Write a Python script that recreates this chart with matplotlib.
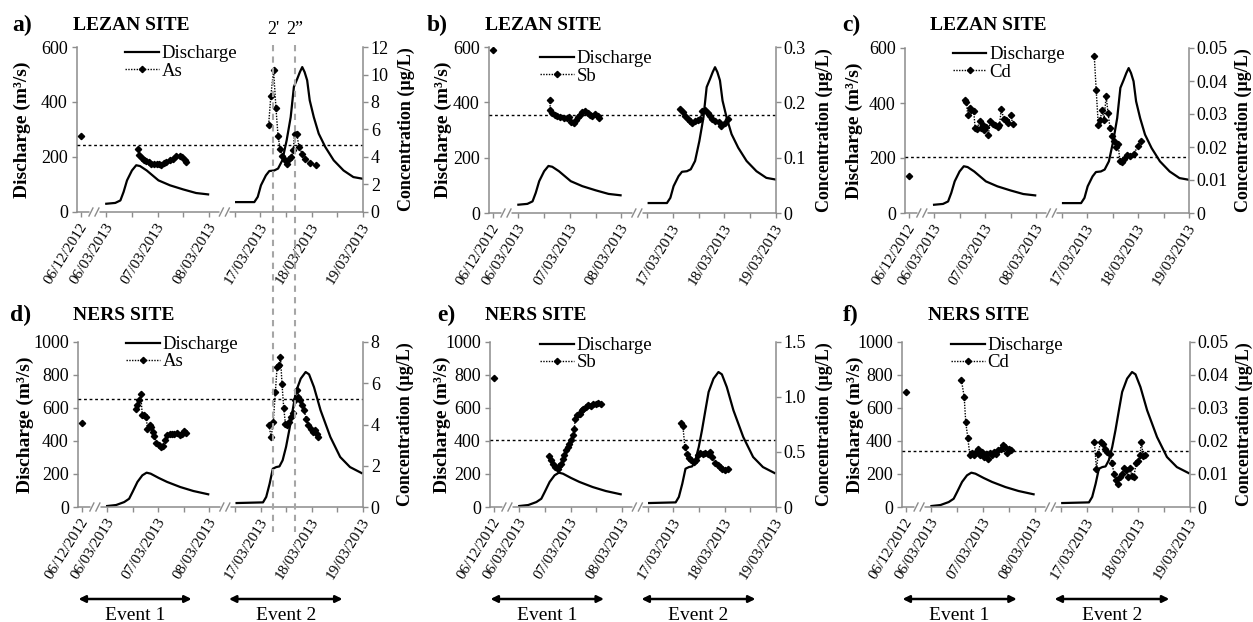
import matplotlib
matplotlib.use("Agg")
import matplotlib.pyplot as plt
import numpy as np
from matplotlib.lines import Line2D
from matplotlib.transforms import blended_transform_factory, ScaledTranslation

plt.rcParams['font.family'] = ['Liberation Serif', 'DejaVu Serif']

# ---------------- x axis (broken time axis) ----------------
DATE_LABELS = ['06/12/2012', '06/03/2013', '07/03/2013', '08/03/2013',
               '17/03/2013', '18/03/2013', '19/03/2013']
DATE_POS = [0.0, 0.5, 1.5, 2.5, 3.5, 4.5, 5.5]
MINOR_POS = [1.0, 2.0, 3.0, 4.0, 5.0]
BREAK_POS = [0.26, 2.8]


def to_axis(event, hours):
    """event 1: hours after 06/03/2013 00:00 ; event 2: hours after 17/03/2013 00:00"""
    base = 0.5 if event == 1 else 3.5
    return base + np.asarray(hours, float) / 24.0


# ---------------- discharge (m3/s) ----------------
lez_q1_h = [0, 4.2, 6.6, 8.1, 9.7, 12, 14, 15.8, 18.9, 24.4, 29.8, 36, 42, 47.6]
lez_q1 = [30, 33, 42, 73, 115, 151, 170, 167, 151, 115, 97, 82, 69, 64]
lez_q2_h = [-11.3, -2.8, -1.2, 0.3, 2.6, 4.2, 6.5, 8.3, 10.3, 12.3, 14.2, 15.7, 17.3,
            18.5, 19.6, 20.7, 21.9, 23.1, 25, 27.3, 30.4, 34.3, 38.9, 43.5, 47.8]
lez_q2 = [36, 36, 55, 97, 133, 149, 151, 158, 188, 260, 345, 455, 485,
          509, 527, 509, 479, 406, 345, 285, 236, 188, 151, 127, 121]

ners_q1_h = [0, 4.2, 8, 10.3, 11.9, 14.2, 16.5, 18.5, 20.4, 24.2, 28.1, 34.3, 40.4, 47.4]
ners_q1 = [6, 12, 30, 50, 91, 152, 192, 208, 202, 176, 152, 121, 97, 77]
ners_q2_h = [-11.3, 1.1, 2.6, 4.2, 5.7, 7.3, 8.8, 10.3, 11.9, 13.4, 15, 16.5, 18.8,
             21.1, 22.7, 25, 28.1, 32.7, 37.3, 41.9, 47.3]
ners_q2 = [24, 28, 61, 141, 232, 242, 246, 283, 364, 465, 586, 697, 778,
           818, 804, 727, 586, 424, 303, 242, 206]

# ---------------- concentrations (ug/L) ----------------
# a) As, Lezan
as_lez_pre = 5.53
as_lez_1h = [15, 15.4, 16.5, 17.6, 18.8, 20.1, 21.1, 22.2, 23.5, 24.7, 25.8, 26.9, 28.1,
             29.6, 31.2, 32.7, 34.3, 35.5, 36.6, 37.3]
as_lez_1 = [4.56, 4.12, 3.95, 3.8, 3.7, 3.6, 3.5, 3.5, 3.47, 3.5, 3.44, 3.56, 3.64,
            3.76, 3.88, 4.05, 4.1, 4.0, 3.8, 3.6]
as_lez_2h = [3.9, 4.9, 6.2, 7.3, 8.3, 9.3, 10.3, 11.4, 12.3, 13.4, 14.5, 15.4, 16, 17,
             18.1, 19.6, 21.1, 23.1, 25.8]
as_lez_2 = [6.35, 8.41, 10.3, 7.59, 5.5, 4.6, 4.05, 3.76, 3.47, 3.88, 4.0, 4.48, 5.7, 5.7,
            4.73, 4.24, 3.83, 3.56, 3.42]
as_lez_ref = 4.85

# b) Sb, Lezan
sb_lez_pre = 0.295
sb_lez_1h = [14.6, 14.9, 15.7, 16.9, 18, 19.5, 21.1, 22.6, 23.7, 24.6, 25.7, 26.8, 27.7,
             28.8, 29.8, 31.1, 32.3, 33.4, 34.5, 35.7, 36.9, 37.5]
sb_lez_1 = [0.205, 0.186, 0.181, 0.178, 0.175, 0.174, 0.172, 0.171, 0.174, 0.165, 0.163,
            0.168, 0.174, 0.178, 0.182, 0.184, 0.181, 0.178, 0.176, 0.179, 0.175, 0.172]
sb_lez_2h = [3.4, 4.5, 5.7, 6.9, 8, 9.1, 10.3, 11.5, 12.6, 13.7, 14.9, 16.2, 17.2, 18.3,
             19.8, 21.4, 22.6, 24.2, 25.7]
sb_lez_2 = [0.188, 0.182, 0.176, 0.170, 0.166, 0.163, 0.166, 0.168, 0.170, 0.184, 0.187,
            0.181, 0.175, 0.169, 0.166, 0.164, 0.158, 0.162, 0.169]
sb_lez_ref = 0.177

# c) Cd, Lezan
cd_lez_pre = 0.0111
cd_lez_1h = [14.4, 15.2, 15.9, 16.7, 17.5, 18.7, 19.3, 20.3, 21.4, 22.1, 22.9, 23.7, 24.5,
             25.5, 26.5, 27.6, 28.6, 29.9, 30.8, 31.7, 32.7, 33.7, 34.8, 36.1, 37]
cd_lez_1 = [0.0343, 0.0337, 0.0297, 0.0318, 0.0313, 0.0308, 0.0258, 0.0256, 0.0278, 0.0258,
            0.0266, 0.0253, 0.0260, 0.0237, 0.0278, 0.0270, 0.0266, 0.0260, 0.0268, 0.0316,
            0.0286, 0.0283, 0.0273, 0.0298, 0.0270]
cd_lez_2h = [3.4, 4.3, 5.3, 6.2, 7.1, 8, 9, 9.9, 10.8, 11.8, 12.7, 13.6, 14.6, 15.5, 16.4,
             17.3, 18.6, 20.1, 22, 24, 25.2]
cd_lez_2 = [0.0477, 0.0374, 0.0268, 0.0283, 0.0313, 0.0283, 0.0354, 0.0303, 0.0258, 0.0232,
            0.0217, 0.0200, 0.0210, 0.0157, 0.0154, 0.0164, 0.0177, 0.0174, 0.0180, 0.0202,
            0.0219]
cd_lez_ref = 0.0169

# d) As, Ners
as_ners_pre = 4.07
as_ners_1h = [13.4, 14.2, 15, 15.7, 16.5, 17.3, 18.4, 18.8, 19.9, 20.7, 21.6, 22.2, 23.1,
              24.2, 25.3, 26.2, 27.3, 28.1, 29.3, 30.4, 31.5, 32.7, 34, 35, 36.1, 37]
as_ners_1 = [4.77, 4.93, 5.17, 5.49, 4.44, 4.44, 4.36, 3.8, 3.96, 3.88, 3.64, 3.43, 3.1,
             2.99, 2.91, 2.94, 3.23, 3.47, 3.52, 3.56, 3.52, 3.59, 3.47, 3.56, 3.68, 3.59]
as_ners_2h = [3.9, 4.9, 5.9, 6.9, 7.7, 8.5, 9.3, 10, 10.8, 11.6, 12.3, 13.3, 14.2, 15.1,
              16, 17, 17.7, 18.5, 19.4, 20.4, 21.3, 22.4, 23.5, 24.7, 25.5, 26.2, 27]
as_ners_2 = [3.96, 3.39, 4.12, 5.58, 6.79, 6.87, 7.27, 5.98, 4.82, 4.04, 3.96, 4.12, 4.36,
             4.56, 5.17, 5.69, 5.33, 5.17, 4.93, 4.69, 4.28, 3.96, 3.8, 3.64, 3.72, 3.55, 3.39]
as_ners_ref = 5.24

# e) Sb, Ners
sb_ners_pre = 1.176
sb_ners_1h = [13.8, 14.6, 15.7, 16.9, 18, 18.8, 19.5, 20.3, 21.1, 21.8, 22.6, 23.4, 24.2,
              24.9, 25.7, 26.2, 26.8, 27.7, 28.6, 29.2, 29.8, 31.1, 32.3, 33.4, 34.5, 35.7,
              36.9, 38]
sb_ners_1 = [0.46, 0.424, 0.394, 0.364, 0.348, 0.370, 0.394, 0.439, 0.47, 0.515, 0.545,
             0.576, 0.606, 0.651, 0.712, 0.803, 0.833, 0.848, 0.848, 0.879, 0.894, 0.909,
             0.924, 0.915, 0.933, 0.939, 0.945, 0.933]
sb_ners_2h = [3.4, 4.5, 5.4, 6.5, 7.5, 8.5, 9.5, 10.6, 11.5, 12.6, 13.7, 14.9, 16.2, 17.2,
              18.3, 19.5, 20.8, 21.8, 22.9, 24.2, 25.4]
sb_ners_2 = [0.764, 0.733, 0.545, 0.485, 0.448, 0.424, 0.406, 0.43, 0.47, 0.49, 0.485,
             0.49, 0.485, 0.497, 0.455, 0.4, 0.379, 0.364, 0.348, 0.333, 0.342]
sb_ners_ref = 0.612

# f) Cd, Ners
cd_ners_pre = 0.035
cd_ners_1h = [13.9, 15.2, 15.9, 16.9, 17.8, 18.7, 19.7, 20.6, 21.5, 22.4, 23.4, 24.3, 25.2,
              26.2, 27.1, 28, 29.1, 29.9, 31.1, 32.2, 33.3, 34.2, 35.1, 36.1, 37]
cd_ners_1 = [0.0385, 0.0333, 0.0257, 0.0208, 0.0157, 0.0164, 0.0157, 0.0167, 0.0177, 0.0157,
             0.0167, 0.0152, 0.016, 0.0144, 0.0164, 0.0157, 0.0167, 0.0162, 0.0172, 0.0177,
             0.0188, 0.0183, 0.0164, 0.0177, 0.0174]
cd_ners_2h = [3.6, 4.6, 5.4, 6.5, 7.4, 8.5, 9.6, 10.8, 11.8, 12.7, 13.6, 14.6, 15.5, 16.4,
              17.3, 18.3, 19.2, 20.1, 21.1, 22, 22.9, 24, 24.8, 25.4, 26.3, 27.2]
cd_ners_2 = [0.0198, 0.0114, 0.0162, 0.0198, 0.0191, 0.0177, 0.0167, 0.0162, 0.0134, 0.0101,
             0.0081, 0.0071, 0.0091, 0.0101, 0.0117, 0.0112, 0.0091, 0.0117, 0.0093, 0.0091,
             0.0132, 0.014, 0.0157, 0.0198, 0.0154, 0.0157]
cd_ners_ref = 0.0169

# flood peaks 2' and 2'' (hours after 17/03/2013 00:00)
flood_marks_h = [6.0, 16.3]
flood_marks_lab = ["2'", "2\u201d"]

# tick values
q_ticks_lez = [0, 200, 400, 600]
q_ticks_ners = [0, 200, 400, 600, 800, 1000]
as_lez_ticks = [0, 2, 4, 6, 8, 10, 12]
sb_lez_ticks = [0, 0.1, 0.2, 0.3]
sb_lez_labels = ['0', '0.1', '0.2', '0.3']
cd_ticks = [0, 0.01, 0.02, 0.03, 0.04, 0.05]
cd_labels = ['0', '0.01', '0.02', '0.03', '0.04', '0.05']
as_ners_ticks = [0, 2, 4, 6, 8]
sb_ners_ticks = [0, 0.5, 1.0, 1.5]
sb_ners_labels = ['0', '0.5', '1.0', '1.5']

# ---------------- layout ----------------
W, H = 1253, 622
GRAY = '#8c8c8c'
fig = plt.figure(figsize=(W / 100, H / 100), dpi=100)

lez_q = (lez_q1_h, lez_q1, lez_q2_h, lez_q2)
ners_q = (ners_q1_h, ners_q1, ners_q2_h, ners_q2)

panels = [
    dict(tag='a)', site='LEZAN SITE', name='As', q=lez_q, qmax=600, qticks=q_ticks_lez,
         c=(as_lez_pre, as_lez_1h, as_lez_1, as_lez_2h, as_lez_2), ref=as_lez_ref,
         cmax=12, cticks=as_lez_ticks, clabels=[str(v) for v in as_lez_ticks],
         box=(77, 47, 363, 212), tagx=12, sitex=73, ty=25, ylx=22, yrx=406,
         leg=(0.168, 1.01), events=False),
    dict(tag='b)', site='LEZAN SITE', name='Sb', q=lez_q, qmax=600, qticks=q_ticks_lez,
         c=(sb_lez_pre, sb_lez_1h, sb_lez_1, sb_lez_2h, sb_lez_2), ref=sb_lez_ref,
         cmax=0.3, cticks=sb_lez_ticks, clabels=sb_lez_labels,
         box=(489, 47, 776, 213), tagx=427, sitex=485, ty=25, ylx=443, yrx=824,
         leg=(0.178, 0.98), events=False),
    dict(tag='c)', site='LEZAN SITE', name='Cd', q=lez_q, qmax=600, qticks=q_ticks_lez,
         c=(cd_lez_pre, cd_lez_1h, cd_lez_1, cd_lez_2h, cd_lez_2), ref=cd_lez_ref,
         cmax=0.05, cticks=cd_ticks, clabels=cd_labels,
         box=(905, 48, 1189, 213), tagx=842, sitex=930, ty=25, ylx=854, yrx=1243,
         leg=(0.168, 1.01), events=False),
    dict(tag='d)', site='NERS SITE', name='As', q=ners_q, qmax=1000, qticks=q_ticks_ners,
         c=(as_ners_pre, as_ners_1h, as_ners_1, as_ners_2h, as_ners_2), ref=as_ners_ref,
         cmax=8, cticks=as_ners_ticks, clabels=[str(v) for v in as_ners_ticks],
         box=(78, 342, 363, 507), tagx=10, sitex=73, ty=315, ylx=25, yrx=405,
         leg=(0.168, 1.035), events=True),
    dict(tag='e)', site='NERS SITE', name='Sb', q=ners_q, qmax=1000, qticks=q_ticks_ners,
         c=(sb_ners_pre, sb_ners_1h, sb_ners_1, sb_ners_2h, sb_ners_2), ref=sb_ners_ref,
         cmax=1.5, cticks=sb_ners_ticks, clabels=sb_ners_labels,
         box=(490, 342, 776, 507), tagx=437, sitex=485, ty=315, ylx=442, yrx=824,
         leg=(0.174, 1.03), events=True),
    dict(tag='f)', site='NERS SITE', name='Cd', q=ners_q, qmax=1000, qticks=q_ticks_ners,
         c=(cd_ners_pre, cd_ners_1h, cd_ners_1, cd_ners_2h, cd_ners_2), ref=cd_ners_ref,
         cmax=0.05, cticks=cd_ticks, clabels=cd_labels,
         box=(902, 342, 1190, 507), tagx=843, sitex=928, ty=315, ylx=855, yrx=1244,
         leg=(0.17, 1.03), events=True),
]

conc_style = dict(color='black', lw=1.0, ls=(0, (1, 1)), marker='D', ms=3.2)
axes = []

for p in panels:
    x0, y0, x1, y1 = p['box']
    ax = fig.add_axes([x0 / W, 1 - y1 / H, (x1 - x0) / W, (y1 - y0) / H])
    ax2 = ax.twinx()
    axes.append(ax)
    ax.set_xlim(-0.07, 5.5)
    ax.set_ylim(0, p['qmax'])
    ax2.set_ylim(0, p['cmax'])

    q1h, q1, q2h, q2 = p['q']
    ax.plot(to_axis(1, q1h), q1, color='black', lw=1.6)
    ax.plot(to_axis(2, q2h), q2, color='black', lw=1.6)

    pre, c1h, c1, c2h, c2 = p['c']
    ax2.plot([DATE_POS[0]], [pre], **conc_style)
    ax2.plot(to_axis(1, c1h), c1, **conc_style)
    ax2.plot(to_axis(2, c2h), c2, **conc_style)
    ax2.axhline(p['ref'], color='black', lw=1.0, ls=(0, (2, 2)))

    # spines
    for s in ['top', 'right']:
        ax.spines[s].set_visible(False)
    for s in ['top', 'left', 'bottom']:
        ax2.spines[s].set_visible(False)
    for s in ['left', 'bottom']:
        ax.spines[s].set_color(GRAY)
        ax.spines[s].set_linewidth(1.1)
    ax2.spines['right'].set_color(GRAY)
    ax2.spines['right'].set_linewidth(1.1)

    # ticks
    ax.set_yticks(p['qticks'])
    ax.tick_params(axis='y', direction='out', length=3.6, width=1, color=GRAY,
                   labelsize=13, pad=3)
    ax2.set_yticks(p['cticks'])
    ax2.set_yticklabels(p['clabels'])
    ax2.tick_params(axis='y', direction='out', length=3.6, width=1, color=GRAY,
                    labelsize=13, pad=2)
    ax.set_xticks(DATE_POS)
    ax.set_xticks(MINOR_POS, minor=True)
    ax.tick_params(axis='x', which='both', direction='out', length=3.6, width=1,
                   color=GRAY, pad=5.5)
    ax.set_xticklabels(DATE_LABELS, rotation=58, ha='right', va='center',
                       rotation_mode='anchor', fontsize=11)
    shift = ScaledTranslation(4 / 100, 0, fig.dpi_scale_trans)
    for lab in ax.get_xticklabels():
        lab.set_transform(lab.get_transform() + shift)

    # axis breaks
    bt = blended_transform_factory(ax.transData, ax.transAxes)
    upx = (5.5 + 0.07) / (x1 - x0)   # data units per pixel
    vpx = 1.0 / (y1 - y0)
    for b in BREAK_POS:
        ax.plot([b - 5 * upx, b + 5 * upx], [0, 0], color='white', lw=3.5,
                transform=bt, clip_on=False, zorder=10, solid_capstyle='butt')
        for off in (-3, 3):
            ax.plot([b + (off - 2) * upx, b + (off + 2) * upx], [-4 * vpx, 4 * vpx],
                    color=GRAY, lw=1.0, transform=bt, clip_on=False, zorder=11)

    # legend
    handles = [Line2D([], [], color='black', lw=1.6), Line2D([], [], **conc_style)]
    ax2.legend(handles, ['Discharge', p['name']], loc='upper left',
               bbox_to_anchor=p['leg'], frameon=False, fontsize=13.5, handlelength=1.8,
               handletextpad=0.15, labelspacing=0.0, borderpad=0, borderaxespad=0,
               numpoints=1)

    # texts
    fig.text(p['tagx'] / W, 1 - p['ty'] / H, p['tag'], fontsize=17, fontweight='bold',
             ha='left', va='center')
    fig.text(p['sitex'] / W, 1 - p['ty'] / H, p['site'], fontsize=14, fontweight='bold',
             ha='left', va='center')
    yc = 1 - (y0 + y1) / 2 / H
    fig.text(p['ylx'] / W, yc, 'Discharge (m\u00b3/s)', rotation=90, fontsize=14,
             fontweight='bold', ha='center', va='center')
    fig.text(p['yrx'] / W, yc, 'Concentration (\u00b5g/L)', rotation=90, fontsize=13,
             fontweight='bold', ha='center', va='center')

    # event arrows
    if p['events']:
        et = blended_transform_factory(ax.transData, fig.transFigure)
        ya = 1 - 599 / H
        for (xa, xb), lab in (((-0.06, 2.15), 'Event 1'), ((2.88, 5.1), 'Event 2')):
            ax.annotate('', xy=(xb, ya), xytext=(xa, ya), xycoords=et, textcoords=et,
                        arrowprops=dict(arrowstyle='<|-|>', color='black', lw=1.8,
                                        shrinkA=0, shrinkB=0),
                        annotation_clip=False)
            ax.text((xa + xb) / 2, 0.004, lab, transform=et, ha='center', va='baseline',
                    fontsize=14)

# vertical flood-peak markers spanning panels a) and d)
vt = blended_transform_factory(axes[0].transData, fig.transFigure)
for h, lab in zip(flood_marks_h, flood_marks_lab):
    u = float(to_axis(2, [h])[0])
    fig.add_artist(Line2D([u, u], [1 - 45 / H, 1 - 532 / H], transform=vt,
                          color='#a6a6a6', lw=1.5, ls=(0, (3, 2.5))))
    fig.text(u, 1 - 30 / H, lab, transform=vt, ha='center', va='center', fontsize=13)

fig.savefig('out.png', dpi=100)
